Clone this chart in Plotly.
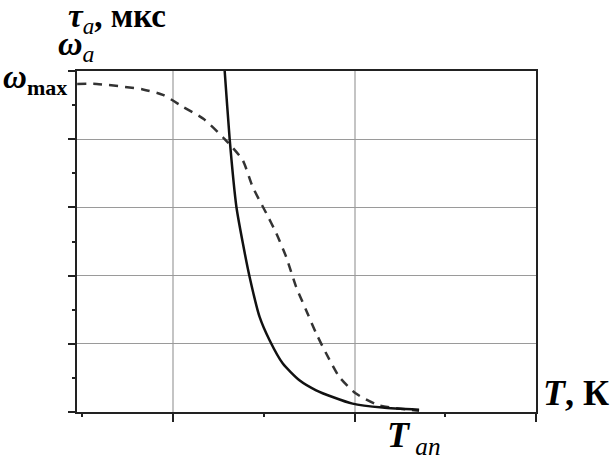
import plotly.graph_objects as go

# Data, x in arbitrary T units, y in grid units
tau_T = [2.557, 2.568, 2.623, 2.697, 2.769, 2.843, 2.953, 3.063, 3.209, 3.392, 3.576, 3.758, 3.978, 4.308, 4.711]
tau_v = [5.16, 5.0, 4.0, 3.01, 2.47, 1.98, 1.394, 1.052, 0.710, 0.465, 0.318, 0.220, 0.123, 0.065, 0.032]

omega_T = [0.942, 1.158, 1.667, 1.887, 2.107, 2.337, 2.568, 2.766, 2.876, 3.026, 3.136, 3.246, 3.356, 3.466, 3.576, 3.686, 3.832, 4.015, 4.271, 4.711]
omega_v = [4.81, 4.81, 4.73, 4.65, 4.476, 4.296, 4.002, 3.694, 3.302, 2.916, 2.623, 2.275, 1.834, 1.492, 1.155, 0.861, 0.514, 0.270, 0.098, 0.018]

W, H = 613, 462
ML, MR, MT, MB = 77, 77, 71, 50
PW, PH = W - ML - MR, H - MT - MB

def px(x):
    return (x - ML) / PW

def py(y):
    return (H - MB - y) / PH

SERIF = "Liberation Serif"

fig = go.Figure()
fig.add_trace(go.Scatter(x=omega_T, y=omega_v, mode="lines",
                         line=dict(color="#333333", width=2.5, dash="9px,7px", shape="spline", smoothing=0.6),
                         showlegend=False, hoverinfo="skip"))
fig.add_trace(go.Scatter(x=tau_T, y=tau_v, mode="lines",
                         line=dict(color="#111111", width=2.5, shape="spline", smoothing=0.6),
                         showlegend=False, hoverinfo="skip"))

fig.update_layout(
    width=W, height=H,
    margin=dict(l=ML, r=MR, t=MT, b=MB, pad=0),
    paper_bgcolor="white", plot_bgcolor="white",
    font=dict(family=SERIF),
    xaxis=dict(range=[0.94, 6.0], tick0=0, dtick=2, ticks="outside", ticklen=8, tickwidth=1.5,
               tickcolor="#222", showticklabels=False, showgrid=True, gridcolor="#c4c4c4", gridwidth=1.5,
               showline=True, linecolor="#222", linewidth=2, mirror=True, zeroline=False,
               minor=dict(dtick=1, tick0=0, ticks="outside", ticklen=3, tickcolor="#222", tickwidth=1.5, showgrid=False)),
    yaxis=dict(range=[0, 5.0], tick0=0, dtick=1, ticks="outside", ticklen=7, tickwidth=1.5,
               tickcolor="#222", showticklabels=False, showgrid=True, gridcolor="#9a9a9a", gridwidth=1,
               showline=True, linecolor="#222", linewidth=2, mirror=True, zeroline=False,
               minor=dict(dtick=0.5, tick0=0, ticks="outside", ticklen=3, tickcolor="#222", tickwidth=1.5, showgrid=False)),
)

def ann(text, x, y, size, xanchor="left", yanchor="middle"):
    fig.add_annotation(text=text, x=px(x), y=py(y), xref="paper", yref="paper",
                       xanchor=xanchor, yanchor=yanchor, showarrow=False,
                       font=dict(family=SERIF, size=size, color="black"))

ann("<b><i>τ</i></b><i><sub>a</sub></i><b>, мкс</b>", 66, 19, 33)
ann("<b><i>ω</i></b><i><sub>a</sub></i>", 56, 46, 34)
ann("<b><i>ω</i></b><b><sub><span style=\"font-size:22px\">max</span></sub></b>", 69, 79, 33, xanchor="right")
ann("<b><i>T</i>, К</b>", 541, 393, 36)
ann("<b><i>T</i></b><i><sub> an</sub></i>", 385, 462, 36, yanchor="bottom")

fig.write_html("out.html")
